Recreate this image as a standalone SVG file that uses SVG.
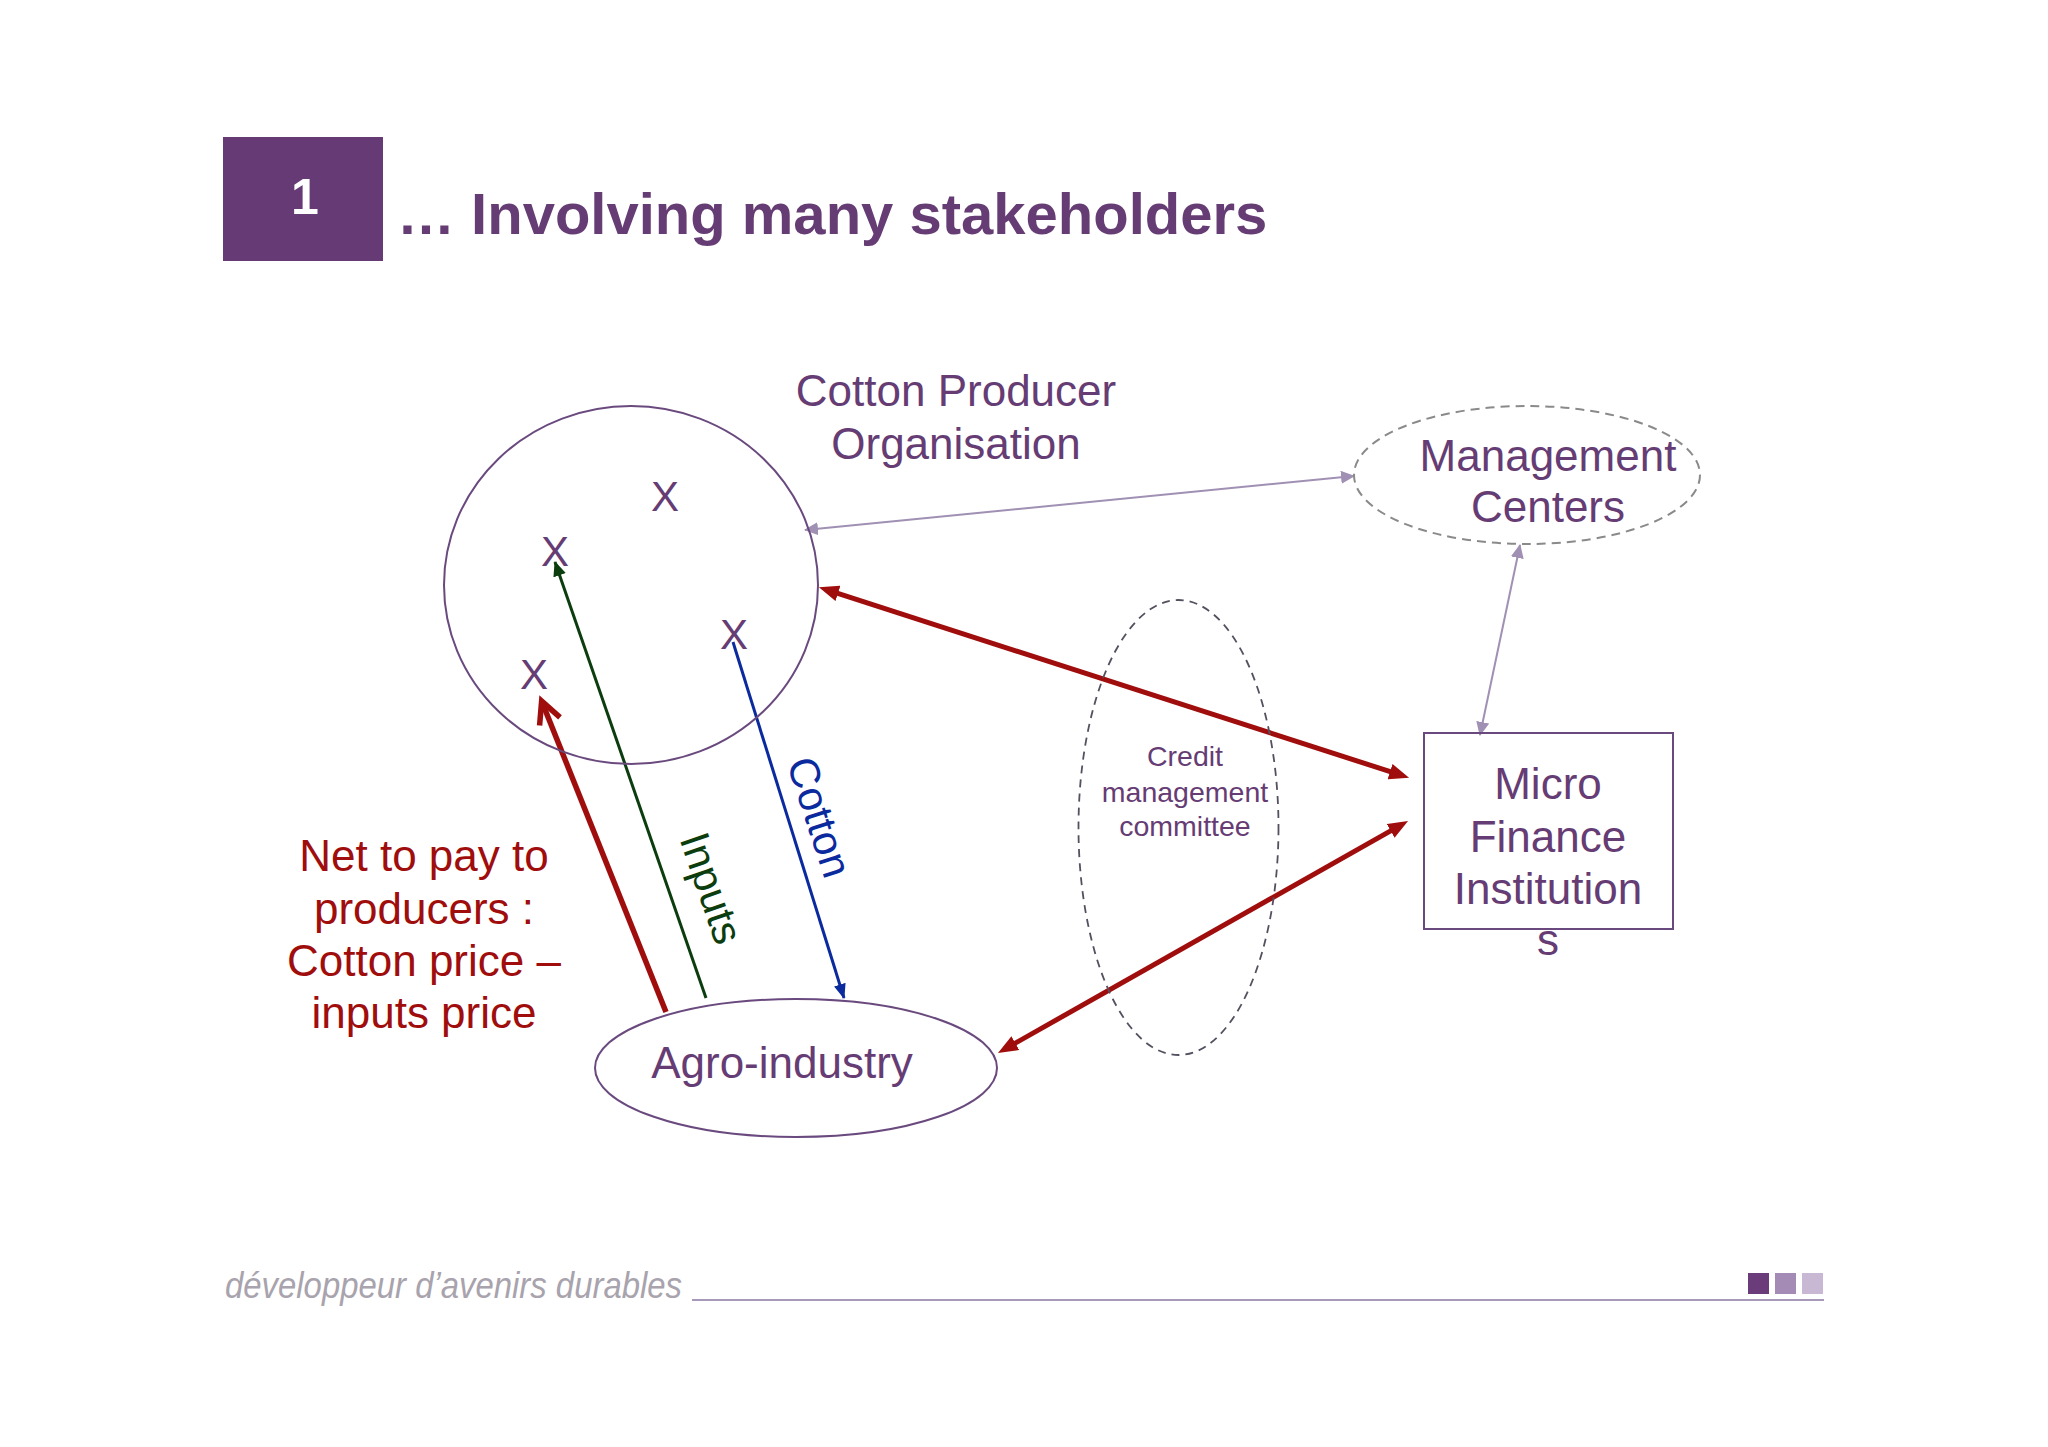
<svg xmlns="http://www.w3.org/2000/svg" width="2048" height="1447" viewBox="0 0 2048 1447">
<style>
.t{font-family:"Liberation Sans",Arial,sans-serif;fill:#663c74}
.node{fill:none;stroke:#6a4a7e;stroke-width:2}
.red{stroke:#a00d0d;stroke-width:5;fill:none}
.gray{stroke:#a090b4;stroke-width:2;fill:none}
</style>
<defs>
<marker id="redHead" viewBox="0 0 20 16" refX="1" refY="8" markerWidth="20" markerHeight="16" markerUnits="userSpaceOnUse" orient="auto-start-reverse"><path d="M0,0 L20,8 L0,16 z" fill="#a00d0d"/></marker>
<marker id="grayHead" viewBox="0 0 14 13" refX="13" refY="6.5" markerWidth="14" markerHeight="13" markerUnits="userSpaceOnUse" orient="auto-start-reverse"><path d="M0,0 L14,6.5 L0,13 z" fill="#a090b4"/></marker>
<marker id="greenHead" viewBox="0 0 15 13" refX="14" refY="6.5" markerWidth="15" markerHeight="13" markerUnits="userSpaceOnUse" orient="auto"><path d="M0,0 L15,6.5 L0,13 z" fill="#0b3d0e"/></marker>
<marker id="blueHead" viewBox="0 0 15 12" refX="14" refY="6" markerWidth="15" markerHeight="12" markerUnits="userSpaceOnUse" orient="auto"><path d="M0,0 L15,6 L0,12 z" fill="#0a2a9e"/></marker>
<marker id="vHead" viewBox="-30 -16 38 32" refX="0" refY="0" markerWidth="38" markerHeight="32" markerUnits="userSpaceOnUse" orient="auto"><path d="M-21,-11 L1,0 L-21,11" fill="none" stroke="#a00d0d" stroke-width="5.5" stroke-linejoin="miter"/></marker>
</defs>
<rect width="2048" height="1447" fill="#ffffff"/>

<g id="title">
<rect x="223" y="137" width="160" height="124" fill="#663a75"/>
<text x="305" y="214" font-family="Liberation Sans,Arial,sans-serif" font-weight="bold" font-size="50" fill="#ffffff" text-anchor="middle">1</text>
<text class="t" x="397" y="234" font-weight="bold" font-size="58" fill="#663a75">… Involving many stakeholders</text>
</g>

<g id="connectors">
<line class="gray" x1="805" y1="530" x2="1354" y2="476" marker-start="url(#grayHead)" marker-end="url(#grayHead)"/>
<line class="gray" x1="1520" y1="545" x2="1480" y2="735" marker-start="url(#grayHead)" marker-end="url(#grayHead)"/>
<line class="red" x1="837" y1="593.1" x2="1391" y2="771.9" marker-start="url(#redHead)" marker-end="url(#redHead)"/>
<line class="red" x1="1014.5" y1="1043.6" x2="1391.5" y2="830.4" marker-start="url(#redHead)" marker-end="url(#redHead)"/>
<line x1="706" y1="998" x2="555" y2="562" stroke="#0b3d0e" stroke-width="3" marker-end="url(#greenHead)"/>
<line x1="733" y1="642" x2="844" y2="998" stroke="#0a2a9e" stroke-width="3" marker-end="url(#blueHead)"/>
<line x1="666" y1="1012" x2="542" y2="702" stroke="#a00d0d" stroke-width="5.5" marker-end="url(#vHead)"/>
<text class="t" transform="translate(712,888) rotate(71)" y="15" font-size="42" style="fill:#0b3d0e" text-anchor="middle">Inputs</text>
<text class="t" transform="translate(820,817) rotate(72)" y="15" font-size="42" style="fill:#0a2a9e" text-anchor="middle">Cotton</text>
</g>

<g id="cotton-producer-organisation">
<ellipse class="node" cx="631" cy="585" rx="187" ry="179"/>
<text class="t" x="956" y="406" font-size="44" text-anchor="middle">Cotton Producer</text>
<text class="t" x="956" y="459" font-size="44" text-anchor="middle">Organisation</text>
<text class="t" x="665" y="511" font-size="42" text-anchor="middle">X</text>
<text class="t" x="555" y="566" font-size="42" text-anchor="middle">X</text>
<text class="t" x="734" y="649" font-size="42" text-anchor="middle">X</text>
<text class="t" x="534" y="689" font-size="42" text-anchor="middle">X</text>
</g>

<g id="management-centers">
<ellipse cx="1527" cy="475" rx="173" ry="69" fill="none" stroke="#8a8a8a" stroke-width="2" stroke-dasharray="9,6"/>
<text class="t" x="1548" y="471" font-size="44" text-anchor="middle">Management</text>
<text class="t" x="1548" y="522" font-size="44" text-anchor="middle">Centers</text>
</g>

<g id="credit-management-committee">
<ellipse cx="1178.5" cy="827.5" rx="100" ry="227.5" fill="none" stroke="#555060" stroke-width="1.8" stroke-dasharray="8,6"/>
<text class="t" x="1185" y="766" font-size="28.5" text-anchor="middle">Credit</text>
<text class="t" x="1185" y="802" font-size="28.5" text-anchor="middle">management</text>
<text class="t" x="1185" y="836" font-size="28.5" text-anchor="middle">committee</text>
</g>

<g id="micro-finance-institutions">
<rect x="1424" y="733" width="249" height="196" fill="none" stroke="#6a4a7e" stroke-width="2"/>
<text class="t" x="1548" y="799" font-size="44" text-anchor="middle">Micro</text>
<text class="t" x="1548" y="852" font-size="44" text-anchor="middle">Finance</text>
<text class="t" x="1548" y="904" font-size="44" text-anchor="middle">Institution</text>
<text class="t" x="1548" y="955" font-size="44" text-anchor="middle">s</text>
</g>

<g id="agro-industry">
<ellipse class="node" cx="796" cy="1068" rx="201" ry="69"/>
<text class="t" x="782" y="1078" font-size="44" text-anchor="middle">Agro-industry</text>
</g>

<g id="net-label">
<text class="t" x="424" y="871" font-size="44" text-anchor="middle" style="fill:#a00d0d">Net to pay to</text>
<text class="t" x="424" y="924" font-size="44" text-anchor="middle" style="fill:#a00d0d">producers :</text>
<text class="t" x="424" y="976" font-size="44" text-anchor="middle" style="fill:#a00d0d">Cotton price –</text>
<text class="t" x="424" y="1028" font-size="44" text-anchor="middle" style="fill:#a00d0d">inputs price</text>
</g>

<g id="footer">
<text x="225" y="1298" font-family="Liberation Sans,Arial,sans-serif" font-style="italic" font-size="36" fill="#a8a3ad" textLength="457" lengthAdjust="spacingAndGlyphs">développeur d’avenirs durables</text>
<line x1="692" y1="1300" x2="1824" y2="1300" stroke="#a899bb" stroke-width="2"/>
<rect x="1748" y="1273" width="21" height="21" fill="#6a3d7a"/>
<rect x="1775" y="1273" width="21" height="21" fill="#a48bb5"/>
<rect x="1802" y="1273" width="21" height="21" fill="#c9b8d4"/>
</g>
</svg>
